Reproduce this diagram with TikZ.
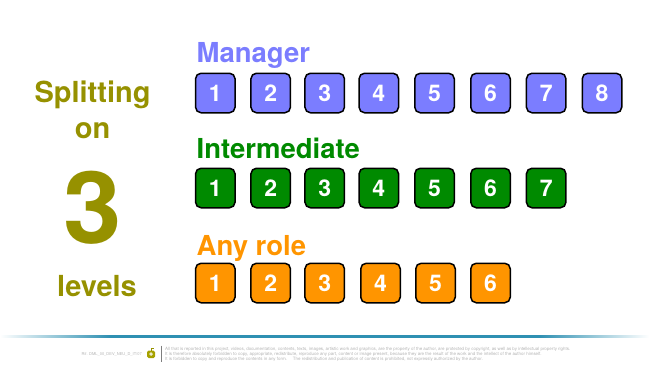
\documentclass[tikz,border=0pt]{standalone}
\usepackage{fontspec}
\setmainfont{TeX Gyre Heros}
\definecolor{mgr}{HTML}{7B7DFF}
\definecolor{imd}{HTML}{008A00}
\definecolor{anyr}{HTML}{FF9500}
\definecolor{oliv}{HTML}{969100}
\definecolor{tealline}{HTML}{2E90B2}
\definecolor{fine}{HTML}{B4B4B4}
\pgfdeclarehorizontalshading{footline}{100bp}{color(0bp)=(white); color(25bp)=(white); color(33.5bp)=(tealline); color(66.5bp)=(tealline); color(75bp)=(white); color(100bp)=(white)}
\tikzset{
  numbox/.style={draw=black,line width=1.5pt,rounded corners=5.5pt,minimum width=39.5pt,minimum height=39.5pt,inner sep=0pt,text=white,font=\fontsize{23}{23}\selectfont\bfseries},
  heading/.style={anchor=base west,inner sep=0pt,font=\fontsize{27.5}{27.5}\selectfont\bfseries},
  side/.style={anchor=base,inner sep=0pt,text=oliv,font=\fontsize{29}{29}\selectfont\bfseries},
  finetext/.style={anchor=base west,inner sep=0pt,text=fine,font=\fontsize{4.45}{4.45}\selectfont}
}
\begin{document}
\begin{tikzpicture}[x=1pt,y=-1pt]
\useasboundingbox (0,0) rectangle (649,370);
\node[side] (split) at (92.5,102) {Splitting};
\node[side] (on) at (92.7,138.5) {on};
\node[side,xscale=1.05,font=\fontsize{100}{100}\selectfont\bfseries] (three) at (93,243.5) {3};
\node[side] (levels) at (97,296.7) {levels};
\node[heading,text=mgr] (hm) at (196.5,62) {Manager};
\node[heading,text=imd] (hi) at (196.5,158) {Intermediate};
\node[heading,text=anyr] (ha) at (196.5,255) {Any role};
\foreach \n/\x in {1/215.3,2/270.7,3/324.7,4/378.8,5/434.5,6/490.5,7/546.2,8/602}
  \node[numbox,fill=mgr] (m\n) at (\x,93) {\n};
\foreach \n/\x in {1/215.3,2/270.7,3/324.7,4/378.8,5/434.5,6/490.5,7/546.2}
  \node[numbox,fill=imd] (i\n) at (\x,188) {\n};
\foreach \n/\x in {1/215.3,2/270.7,3/324.7,4/380.5,5/435.5,6/490.5}
  \node[numbox,fill=anyr] (a\n) at (\x,283) {\n};
\path[shading=footline] (0,335.8) rectangle (649,337.9);
\node[finetext,anchor=base east,font=\fontsize{4}{4}\selectfont] (ref) at (142,355) {Rif. DML\_00\_DEV\_NEU\_D\_IT/07};
\fill[oliv!85!yellow,rounded corners=1.5pt] (147.2,350.5) rectangle (155,358);
\draw[oliv,line width=.5pt] (151,350.5) -- (151,348) -- (153.5,348);
\fill[white!80!oliv] (151.1,354) circle (1.9);
\draw[fine!70!black,line width=.6pt] (161.5,345.7) -- (161.5,361.7);
\node[finetext] (l1) at (165,350) {All that is reported in this project, videos, documentation, contents, texts, images, artistic work and graphics, are the property of the author, are protected by copyright, as well as by intellectual property rights.};
\node[finetext] (l2) at (165,355) {It is therefore absolutely forbidden to copy, appropriate, redistribute, reproduce any part, content or image present, because they are the result of the work and the intellect of the author himself.};
\node[finetext] (l3) at (165,360) {It is forbidden to copy and reproduce the contents in any form.\hspace{6pt}The redistribution and publication of content is prohibited, not expressly authorized by the author.};
\end{tikzpicture}
\end{document}
